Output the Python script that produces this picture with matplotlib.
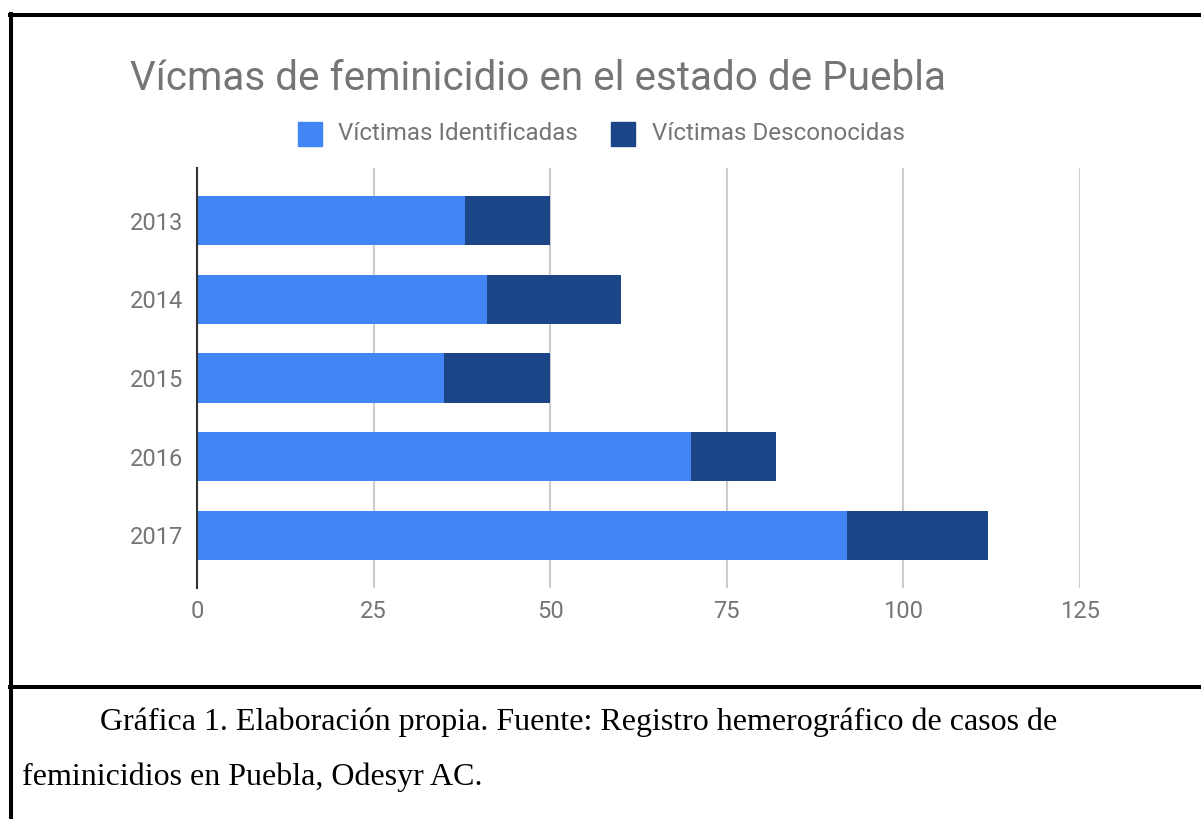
import matplotlib.pyplot as plt
from matplotlib.lines import Line2D
from matplotlib.patches import Rectangle

years = ["2013", "2014", "2015", "2016", "2017"]
identificadas = [38, 41, 35, 70, 92]
desconocidas = [12, 19, 15, 12, 20]
xticks = [0, 25, 50, 75, 100, 125]

W, H = 1201, 819
fig = plt.figure(figsize=(W / 100, H / 100), dpi=100)
plt.rcParams['font.family'] = ['Roboto', 'DejaVu Sans']

# axes placed in pixel terms
left, right, top, bottom = 197, 1080, 168, 588
ax = fig.add_axes([left / W, 1 - bottom / H, (right - left) / W, (bottom - top) / H])

pos = list(range(len(years)))
ax.barh(pos, identificadas, height=0.63, color="#4285F4", zorder=3)
ax.barh(pos, desconocidas, left=identificadas, height=0.63, color="#1C4587", zorder=3)

ax.set_xlim(0, 125)
ax.set_ylim(len(years) - 0.33, -0.67)
ax.set_yticks(pos)
ax.set_yticklabels(years)
ax.set_xticks(xticks)
ax.grid(axis="x", color="#cccccc", linewidth=1.5, zorder=0)
ax.tick_params(length=0, labelsize=17, colors="#757575")
ax.tick_params(axis="y", pad=10)
ax.tick_params(axis="x", pad=9)
for s in ["top", "right", "bottom"]:
    ax.spines[s].set_visible(False)
ax.spines["left"].set_color("#333333")
ax.spines["left"].set_linewidth(1.5)
ax.spines["left"].set_zorder(4)

# title and legend
fig.text(130 / W, 1 - 78 / H, "Vícmas de feminicidio en el estado de Puebla",
         fontsize=29.1, color="#757575", va="center", ha="left")
fig.patches.append(Rectangle((298 / W, 1 - 146 / H), 24 / W, 24 / H,
                             transform=fig.transFigure, color="#4285F4"))
fig.text(338 / W, 1 - 133 / H, "Víctimas Identificadas", fontsize=17.4,
         color="#757575", va="center")
fig.patches.append(Rectangle((611 / W, 1 - 146 / H), 24 / W, 24 / H,
                             transform=fig.transFigure, color="#1C4587"))
fig.text(652 / W, 1 - 133 / H, "Víctimas Desconocidas", fontsize=17.4,
         color="#757575", va="center")

# frame lines
def hline(y, x0, x1):
    fig.add_artist(Line2D([x0 / W, x1 / W], [1 - y / H, 1 - y / H],
                          color="black", linewidth=2.9, transform=fig.transFigure))

hline(15, 10, W)
hline(687, 10, W)
fig.add_artist(Line2D([11 / W, 11 / W], [1 - 14 / H, 0], color="black",
                      linewidth=2.9, transform=fig.transFigure))

# caption
cap = dict(fontsize=23, color="black", family=["Liberation Serif"], va="baseline")
fig.text(100 / W, 1 - 730 / H,
         "Gráfica 1. Elaboración propia. Fuente: Registro hemerográfico de casos de", **cap)
fig.text(22 / W, 1 - 785 / H, "feminicidios en Puebla, Odesyr AC.", **cap)

fig.savefig("out.png", dpi=100, facecolor="white")
